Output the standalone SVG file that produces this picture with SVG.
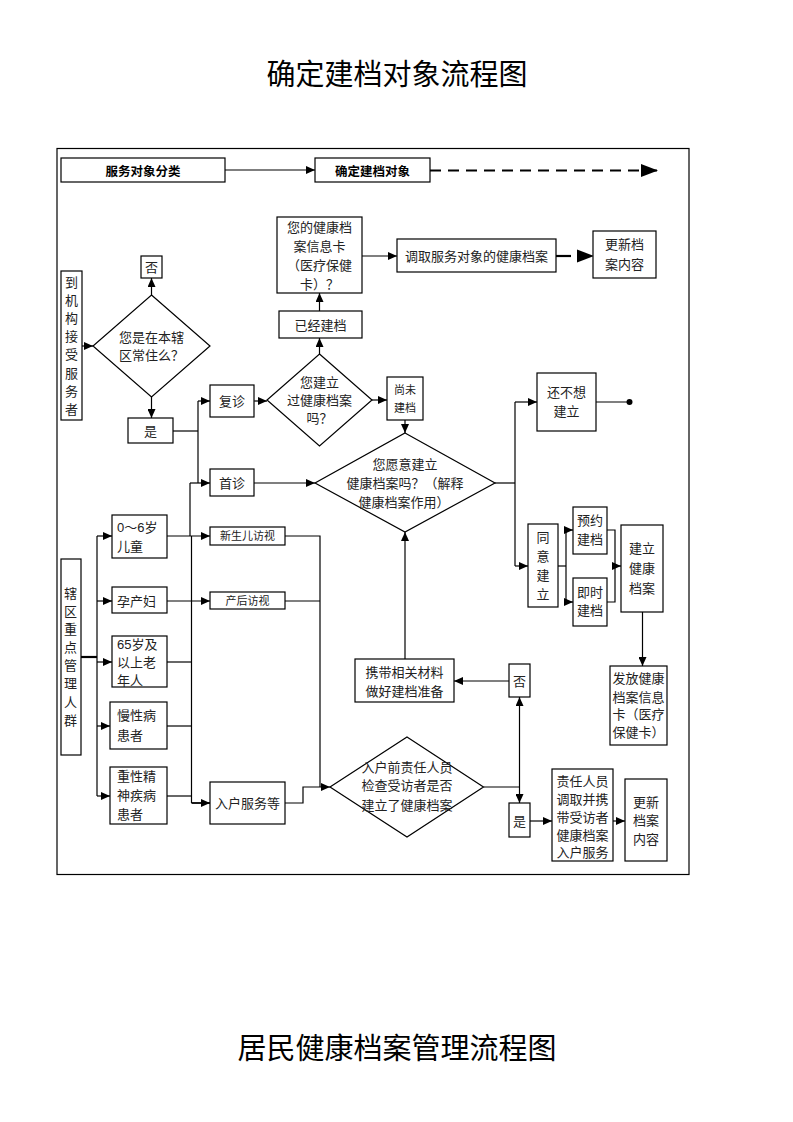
<svg xmlns="http://www.w3.org/2000/svg" width="793" height="1122" viewBox="0 0 793 1122">
<defs>
<marker id="ah" markerUnits="userSpaceOnUse" markerWidth="9" markerHeight="8" refX="9" refY="4" orient="auto"><path d="M0,0 L9,4 L0,8 z" fill="#000"/></marker>
<marker id="ahL" markerUnits="userSpaceOnUse" markerWidth="17" markerHeight="13" refX="17" refY="6.5" orient="auto"><path d="M0,0 L17,6.5 L0,13 z" fill="#000"/></marker>
</defs>
<style>
rect,polygon.d{fill:#fff;stroke:#000;stroke-width:1.2}
text{font-family:"Liberation Sans","Noto Sans CJK SC",sans-serif;font-size:13px;fill:#222;text-anchor:middle;dominant-baseline:central}
text.l{text-anchor:start}
text.s{font-size:11px}
text.b{font-family:"Noto Sans CJK SC",sans-serif;font-weight:bold;font-size:12.5px;fill:#000}
text.t{font-family:"Noto Sans CJK SC",sans-serif;font-size:29px;fill:#000}
.c line,.c path,.c polyline{fill:none;stroke:#000;stroke-width:1.2}
.c .a{marker-end:url(#ah)}
</style>
<rect width="793" height="1122" fill="#fff" style="stroke:none"/>
<text class="t" x="397" y="72">确定建档对象流程图</text>
<text class="t" x="397" y="1046">居民健康档案管理流程图</text>
<rect x="57" y="148.5" width="632" height="726" style="fill:none"/>

<g class="c" id="connectors">
<line class="a" x1="225" y1="170" x2="315" y2="170"/>
<line x1="430" y1="170.5" x2="658" y2="170.5" style="stroke-width:2;stroke-dasharray:11 7;marker-end:url(#ahL)"/>
<line class="a" x1="362" y1="256" x2="397" y2="256"/>
<line x1="556" y1="256" x2="571" y2="256" style="stroke-width:2.2"/>
<polygon points="577,249.5 594,256 577,262.5" fill="#000" style="stroke:none"/>
<line class="a" x1="319.5" y1="311" x2="319.5" y2="293"/>
<line class="a" x1="319.5" y1="354" x2="319.5" y2="338"/>
<line class="a" x1="372" y1="400" x2="387" y2="400"/>
<line class="a" x1="405" y1="420" x2="405" y2="433"/>
<polyline points="495,483 515,483"/>
<line x1="515" y1="402" x2="515" y2="566"/>
<line class="a" x1="515" y1="402" x2="537" y2="402"/>
<line class="a" x1="515" y1="566" x2="528" y2="566"/>
<line x1="596" y1="402" x2="629" y2="402"/>
<circle cx="629.5" cy="402" r="3" fill="#000"/>
<line x1="558" y1="566" x2="566" y2="566"/>
<line x1="566" y1="530" x2="566" y2="602"/>
<line class="a" x1="566" y1="530" x2="573" y2="530"/>
<line class="a" x1="566" y1="602" x2="573" y2="602"/>
<polyline points="607,530 615,530 615,602 607,602"/>
<line class="a" x1="615" y1="566" x2="621" y2="566"/>
<line class="a" x1="642.5" y1="612" x2="642.5" y2="666"/>
<line class="a" x1="82" y1="346" x2="93" y2="346"/>
<line class="a" x1="151.5" y1="295" x2="151.5" y2="278"/>
<line class="a" x1="151.5" y1="397" x2="151.5" y2="418"/>
<polyline points="173,431 198,431"/>
<line x1="198" y1="401" x2="198" y2="483"/>
<line class="a" x1="198" y1="401" x2="210" y2="401"/>
<line class="a" x1="254" y1="401" x2="267" y2="401"/>
<line class="a" x1="254" y1="483" x2="315" y2="483"/>
<line x1="190" y1="483" x2="190" y2="536"/>
<line class="a" x1="190" y1="483" x2="210" y2="483"/>
<line class="a" x1="167" y1="536" x2="210" y2="536"/>
<line class="a" x1="167" y1="601" x2="210" y2="601"/>
<line x1="191.5" y1="536" x2="191.5" y2="803"/>
<line x1="167" y1="662" x2="191.5" y2="662"/>
<line x1="167" y1="726" x2="191.5" y2="726"/>
<line x1="167" y1="796" x2="191.5" y2="796"/>
<line class="a" x1="191.5" y1="803" x2="210" y2="803" style="stroke-width:1.8"/>
<line x1="81" y1="657" x2="97" y2="657" style="stroke-width:2.2"/>
<line x1="97" y1="536" x2="97" y2="796"/>
<line class="a" x1="97" y1="536" x2="112" y2="536"/>
<line class="a" x1="97" y1="601" x2="112" y2="601"/>
<line class="a" x1="97" y1="662" x2="112" y2="662"/>
<line class="a" x1="97" y1="726" x2="110" y2="726"/>
<line class="a" x1="97" y1="796" x2="110" y2="796"/>
<polyline points="285,536 320,536 320,787"/>
<line x1="285" y1="601" x2="320" y2="601"/>
<polyline class="a" points="285,803 303,803 303,787 330,787"/>
<line class="a" x1="405" y1="659" x2="405" y2="532"/>
<line class="a" x1="509" y1="681" x2="454" y2="681"/>
<line x1="483.5" y1="787" x2="519.5" y2="787"/>
<line class="a" x1="519.5" y1="787" x2="519.5" y2="697"/>
<line class="a" x1="519.5" y1="787" x2="519.5" y2="803"/>
<line class="a" x1="530" y1="821" x2="552" y2="821"/>
<line class="a" x1="613" y1="821" x2="625" y2="821"/>
</g>

<g id="n-fwdxfl"><rect x="61" y="158" width="164" height="24"/><text class="b" x="143" y="170">服务对象分类</text></g>
<g id="n-qdjdx"><rect x="315" y="158" width="115" height="24"/><text class="b" x="372.5" y="170">确定建档对象</text></g>
<g id="n-card"><rect x="277" y="217" width="85" height="76"/><text x="319.5" y="227">您的健康档</text><text x="319.5" y="246">案信息卡</text><text x="319.5" y="265">（医疗保健</text><text x="319.5" y="284">卡）？</text></g>
<g id="n-dqfw"><rect x="397" y="239" width="159" height="33"/><text x="476.5" y="256">调取服务对象的健康档案</text></g>
<g id="n-gxda1"><rect x="593" y="231" width="63" height="47"/><text x="624.5" y="244">更新档</text><text x="624.5" y="264">案内容</text></g>
<g id="n-yjjd"><rect x="279" y="311" width="83" height="27"/><text x="320.5" y="325">已经建档</text></g>
<g id="n-dq1"><polygon class="d" points="319.5,354 372,400 319.5,446 267,400"/><text x="319.5" y="382">您建立</text><text x="319.5" y="400">过健康档案</text><text x="319.5" y="418">吗？</text></g>
<g id="n-swjd"><rect x="387" y="377" width="36" height="43"/><text class="s" x="405" y="390">尚未</text><text class="s" x="405" y="408">建档</text></g>
<g id="n-dq2"><polygon class="d" points="405,433 495,483 405,532 315,483"/><text x="405" y="464">您愿意建立</text><text x="405" y="483">健康档案吗？（解释</text><text x="404" y="502">健康档案作用）</text></g>
<g id="n-bxjl"><rect x="537" y="373" width="59" height="58"/><text x="566.5" y="392">还不想</text><text x="566.5" y="411">建立</text></g>
<g id="n-tyjl"><rect x="528" y="524" width="30" height="83"/><text x="543" y="537">同</text><text x="543" y="556">意</text><text x="543" y="575">建</text><text x="543" y="594">立</text></g>
<g id="n-yyjd"><rect x="573" y="507" width="34" height="47"/><text x="590" y="520">预约</text><text x="590" y="539">建档</text></g>
<g id="n-jsjd"><rect x="573" y="578" width="34" height="48"/><text x="590" y="592">即时</text><text x="590" y="610">建档</text></g>
<g id="n-jljk"><rect x="621" y="525" width="42" height="87"/><text x="642" y="548">建立</text><text x="642" y="568">健康</text><text x="642" y="588">档案</text></g>
<g id="n-ff"><rect x="610" y="666" width="57" height="79"/><text x="638.5" y="678">发放健康</text><text x="638.5" y="697">档案信息</text><text x="638.5" y="714">卡（医疗</text><text x="638.5" y="732">保健卡）</text></g>
<g id="n-djg"><rect x="61" y="271" width="21" height="149"/><text x="71.5" y="282">到</text><text x="71.5" y="300">机</text><text x="71.5" y="318">构</text><text x="71.5" y="336">接</text><text x="71.5" y="354">受</text><text x="71.5" y="373">服</text><text x="71.5" y="391">务</text><text x="71.5" y="409">者</text></g>
<g id="n-dq0"><polygon class="d" points="151.5,295 210,346 151.5,397 93,346"/><text x="151.5" y="337">您是在本辖</text><text x="151.5" y="355">区常住么？</text></g>
<g id="n-fou1"><rect x="141" y="256" width="21" height="22"/><text x="151.5" y="267">否</text></g>
<g id="n-shi1"><rect x="128" y="418" width="45" height="25"/><text x="150.5" y="431">是</text></g>
<g id="n-fz"><rect x="210" y="385" width="44" height="32"/><text x="232" y="401">复诊</text></g>
<g id="n-sz"><rect x="210" y="469" width="44" height="27"/><text x="232" y="483">首诊</text></g>
<g id="n-child"><rect x="112" y="515" width="55" height="43"/><text class="l" x="117" y="527">0～6岁</text><text class="l" x="117" y="546">儿童</text></g>
<g id="n-yun"><rect x="112" y="587" width="55" height="26"/><text class="l" x="117" y="601">孕产妇</text></g>
<g id="n-old"><rect x="112" y="636" width="55" height="51"/><text class="l" x="117" y="644">65岁及</text><text class="l" x="117" y="662">以上老</text><text class="l" x="117" y="680">年人</text></g>
<g id="n-mx"><rect x="110" y="702" width="57" height="47"/><text class="l" x="117" y="715">慢性病</text><text class="l" x="117" y="735">患者</text></g>
<g id="n-zx"><rect x="110" y="767" width="57" height="57"/><text class="l" x="117" y="776">重性精</text><text class="l" x="117" y="795">神疾病</text><text class="l" x="117" y="814">患者</text></g>
<g id="n-xq"><rect x="61" y="559" width="20" height="196"/><text x="70.5" y="593">辖</text><text x="70.5" y="611">区</text><text x="70.5" y="629">重</text><text x="70.5" y="647">点</text><text x="70.5" y="665">管</text><text x="70.5" y="683">理</text><text x="70.5" y="702">人</text><text x="70.5" y="720">群</text></g>
<g id="n-xsr"><rect x="210" y="527" width="75" height="18"/><text class="s" x="247.5" y="536">新生儿访视</text></g>
<g id="n-chfs"><rect x="210" y="592" width="75" height="17"/><text class="s" x="247.5" y="601">产后访视</text></g>
<g id="n-rhfw"><rect x="210" y="782" width="75" height="42"/><text x="247.5" y="803">入户服务等</text></g>
<g id="n-xd"><rect x="355" y="659" width="99" height="43"/><text x="404.5" y="672">携带相关材料</text><text x="404.5" y="691">做好建档准备</text></g>
<g id="n-fou2"><rect x="509" y="664" width="21" height="33"/><text x="519.5" y="681">否</text></g>
<g id="n-dq3"><polygon class="d" points="407,737 483.5,787 407,837 330,787"/><text x="407" y="767">入户前责任人员</text><text x="407" y="785">检查受访者是否</text><text x="407" y="805">建立了健康档案</text></g>
<g id="n-shi2"><rect x="509" y="803" width="21" height="34"/><text x="519.5" y="821">是</text></g>
<g id="n-zrry"><rect x="552" y="769" width="61" height="92"/><text x="582.5" y="781">责任人员</text><text x="582.5" y="799">调取并携</text><text x="582.5" y="817">带受访者</text><text x="582.5" y="835">健康档案</text><text x="582.5" y="852">入户服务</text></g>
<g id="n-gxda2"><rect x="625" y="779" width="42" height="82"/><text x="646" y="802">更新</text><text x="646" y="820">档案</text><text x="646" y="839">内容</text></g>
</svg>
